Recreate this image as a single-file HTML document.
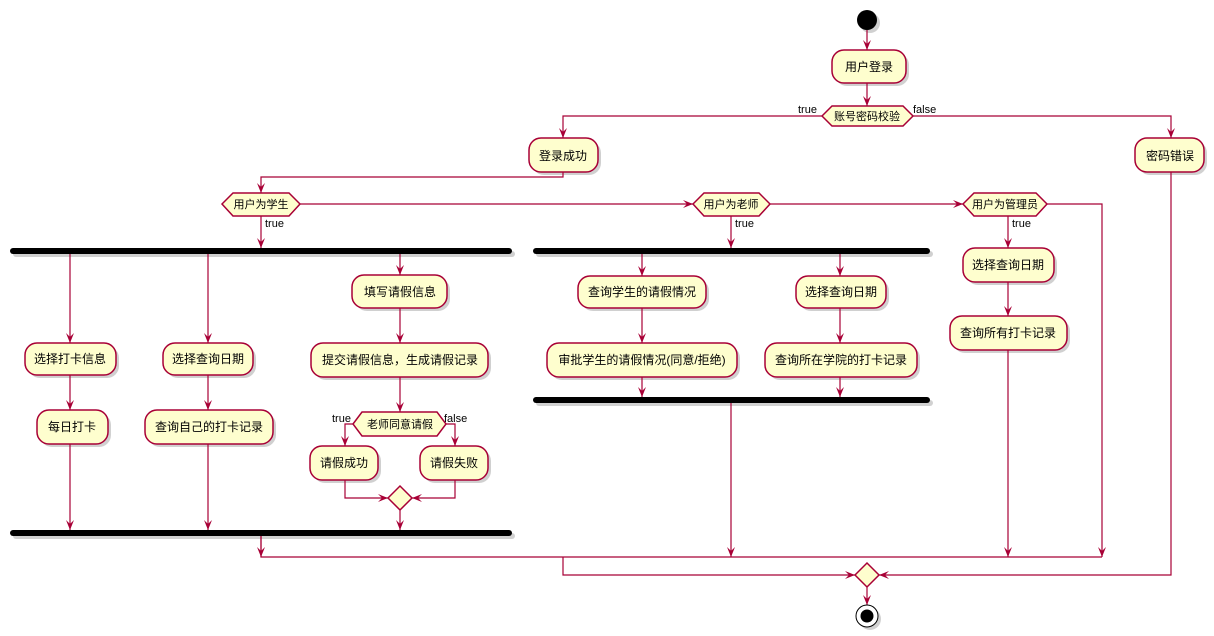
<!DOCTYPE html>
<html><head><meta charset="utf-8"><style>
html,body{margin:0;padding:0;background:#fff;}
svg{display:block;}
text{font-family:"Liberation Sans","Noto Sans CJK SC",sans-serif;font-size:12px;fill:#000;}
.b{fill:#FEFECE;stroke:#A80036;stroke-width:1.5;}
.l{fill:none;stroke:#A80036;stroke-width:1.2;}
.s{fill:#999;opacity:.45;}
.lb{font-size:11px;}
</style></head><body>
<svg width="1214" height="636" viewBox="0 0 1214 636" xmlns="http://www.w3.org/2000/svg">
<defs>
<marker id="a" viewBox="0 0 10 10" refX="10" refY="5" markerWidth="10" markerHeight="10" orient="auto" markerUnits="userSpaceOnUse">
<path d="M0,1 L10,5 L0,9 L4,5 Z" fill="#A80036"/>
</marker>
</defs>
<!-- shadows -->
<g class="s">
<circle cx="870" cy="23" r="10"/>
<rect x="835" y="53" width="74" height="33" rx="12"/>
<rect x="532" y="141" width="69" height="34" rx="12"/>
<rect x="1138" y="141" width="69" height="34" rx="12"/>
<rect x="13" y="251" width="502" height="6" rx="3"/>
<rect x="13" y="533" width="502" height="6" rx="3"/>
<rect x="536" y="251" width="397" height="6" rx="3"/>
<rect x="536" y="400" width="397" height="6" rx="3"/>
<rect x="28" y="346" width="91" height="32" rx="12"/>
<rect x="40" y="413" width="71" height="34" rx="12"/>
<rect x="166" y="346" width="90" height="32" rx="12"/>
<rect x="148" y="413" width="128" height="34" rx="12"/>
<rect x="355" y="278" width="95" height="33" rx="12"/>
<rect x="314" y="346" width="177" height="34" rx="12"/>
<rect x="313" y="449" width="68" height="34" rx="12"/>
<rect x="423" y="449" width="68" height="34" rx="12"/>
<rect x="581" y="279" width="128" height="32" rx="12"/>
<rect x="550" y="346" width="190" height="34" rx="12"/>
<rect x="799" y="279" width="90" height="32" rx="12"/>
<rect x="768" y="346" width="152" height="34" rx="12"/>
<rect x="966" y="251" width="91" height="34" rx="12"/>
<rect x="953" y="319" width="117" height="34" rx="12"/>
<circle cx="870" cy="619" r="11"/>
</g>

<!-- lines -->
<line class="l" x1="867" y1="30" x2="867" y2="50" marker-end="url(#a)"/>
<line class="l" x1="867" y1="83" x2="867" y2="106" marker-end="url(#a)"/>
<polyline class="l" points="822,116 563,116 563,138" marker-end="url(#a)"/>
<polyline class="l" points="913,116 1171,116 1171,138" marker-end="url(#a)"/>
<polyline class="l" points="563,172 563,177 261,177 261,193" marker-end="url(#a)"/>
<line class="l" x1="300" y1="204" x2="693" y2="204" marker-end="url(#a)"/>
<line class="l" x1="770" y1="204" x2="963" y2="204" marker-end="url(#a)"/>
<polyline class="l" points="1047,204 1102,204 1102,557" marker-end="url(#a)"/>
<line class="l" x1="261" y1="216" x2="261" y2="248" marker-end="url(#a)"/>
<line class="l" x1="731" y1="216" x2="731" y2="248" marker-end="url(#a)"/>
<line class="l" x1="1008" y1="216" x2="1008" y2="248" marker-end="url(#a)"/>
<!-- student -->
<line class="l" x1="70" y1="253" x2="70" y2="343" marker-end="url(#a)"/>
<line class="l" x1="70" y1="375" x2="70" y2="410" marker-end="url(#a)"/>
<line class="l" x1="70" y1="444" x2="70" y2="530" marker-end="url(#a)"/>
<line class="l" x1="208" y1="253" x2="208" y2="343" marker-end="url(#a)"/>
<line class="l" x1="208" y1="375" x2="208" y2="410" marker-end="url(#a)"/>
<line class="l" x1="208" y1="444" x2="208" y2="530" marker-end="url(#a)"/>
<line class="l" x1="400" y1="253" x2="400" y2="275" marker-end="url(#a)"/>
<line class="l" x1="400" y1="308" x2="400" y2="343" marker-end="url(#a)"/>
<line class="l" x1="400" y1="377" x2="400" y2="412" marker-end="url(#a)"/>
<polyline class="l" points="353,424 345,424 345,446" marker-end="url(#a)"/>
<polyline class="l" points="446,424 455,424 455,446" marker-end="url(#a)"/>
<polyline class="l" points="345,480 345,498 388,498" marker-end="url(#a)"/>
<polyline class="l" points="455,480 455,498 412,498" marker-end="url(#a)"/>
<line class="l" x1="400" y1="510" x2="400" y2="530" marker-end="url(#a)"/>
<polyline class="l" points="261,535 261,557 1102,557"/>
<!-- teacher -->
<line class="l" x1="642" y1="253" x2="642" y2="276" marker-end="url(#a)"/>
<line class="l" x1="642" y1="308" x2="642" y2="343" marker-end="url(#a)"/>
<line class="l" x1="642" y1="377" x2="642" y2="397" marker-end="url(#a)"/>
<line class="l" x1="840" y1="253" x2="840" y2="276" marker-end="url(#a)"/>
<line class="l" x1="840" y1="308" x2="840" y2="343" marker-end="url(#a)"/>
<line class="l" x1="840" y1="377" x2="840" y2="397" marker-end="url(#a)"/>
<line class="l" x1="731" y1="403" x2="731" y2="557" marker-end="url(#a)"/>
<!-- admin -->
<line class="l" x1="1008" y1="282" x2="1008" y2="316" marker-end="url(#a)"/>
<line class="l" x1="1008" y1="350" x2="1008" y2="557" marker-end="url(#a)"/>
<line class="l" x1="261" y1="535" x2="261" y2="557" marker-end="url(#a)"/>
<polyline class="l" points="563,557 563,575 855,575" marker-end="url(#a)"/>
<polyline class="l" points="1171,172 1171,575 879,575" marker-end="url(#a)"/>
<line class="l" x1="867" y1="587" x2="867" y2="605" marker-end="url(#a)"/>

<!-- nodes -->
<circle cx="867" cy="20" r="10" fill="#000"/>
<rect class="b" x="832" y="50" width="74" height="33" rx="12"/><text x="869" y="71" text-anchor="middle">用户登录</text>
<polygon class="b" points="822,116 832,106 903,106 913,116 903,126 832,126"/><text x="867" y="120" text-anchor="middle" class="lb">账号密码校验</text>
<text x="798" y="113" class="lb">true</text><text x="913" y="113" class="lb">false</text>
<rect class="b" x="529" y="138" width="69" height="34" rx="12"/><text x="563" y="160" text-anchor="middle">登录成功</text>
<rect class="b" x="1135" y="138" width="69" height="34" rx="12"/><text x="1170" y="160" text-anchor="middle">密码错误</text>

<polygon class="b" points="222,204 233,193 289,193 300,204 289,216 233,216"/><text x="261" y="208" text-anchor="middle" class="lb">用户为学生</text>
<text x="265" y="227" class="lb">true</text>
<polygon class="b" points="693,204 704,193 759,193 770,204 759,216 704,216"/><text x="731" y="208" text-anchor="middle" class="lb">用户为老师</text>
<text x="735" y="227" class="lb">true</text>
<polygon class="b" points="963,204 974,193 1036,193 1047,204 1036,216 974,216"/><text x="1005" y="208" text-anchor="middle" class="lb">用户为管理员</text>
<text x="1012" y="227" class="lb">true</text>

<rect x="10" y="248" width="502" height="6" rx="3" fill="#000"/>
<rect x="10" y="530" width="502" height="6" rx="3" fill="#000"/>
<rect x="533" y="248" width="397" height="6" rx="3" fill="#000"/>
<rect x="533" y="397" width="397" height="6" rx="3" fill="#000"/>

<rect class="b" x="25" y="343" width="91" height="32" rx="12"/><text x="70" y="363" text-anchor="middle">选择打卡信息</text>
<rect class="b" x="37" y="410" width="71" height="34" rx="12"/><text x="72" y="431" text-anchor="middle">每日打卡</text>
<rect class="b" x="163" y="343" width="90" height="32" rx="12"/><text x="208" y="363" text-anchor="middle">选择查询日期</text>
<rect class="b" x="145" y="410" width="128" height="34" rx="12"/><text x="209" y="431" text-anchor="middle">查询自己的打卡记录</text>
<rect class="b" x="352" y="275" width="95" height="33" rx="12"/><text x="400" y="296" text-anchor="middle">填写请假信息</text>
<rect class="b" x="311" y="343" width="177" height="34" rx="12"/><text x="400" y="364" text-anchor="middle">提交请假信息，生成请假记录</text>
<polygon class="b" points="353,424 362,412 437,412 446,424 437,436 362,436"/><text x="400" y="428" text-anchor="middle" class="lb">老师同意请假</text>
<text x="332" y="422" class="lb">true</text><text x="444" y="422" class="lb">false</text>
<rect class="b" x="310" y="446" width="68" height="34" rx="12"/><text x="344" y="467" text-anchor="middle">请假成功</text>
<rect class="b" x="420" y="446" width="68" height="34" rx="12"/><text x="454" y="467" text-anchor="middle">请假失败</text>
<polygon class="b" points="388,498 400,486 412,498 400,510"/>

<rect class="b" x="578" y="276" width="128" height="32" rx="12"/><text x="642" y="296" text-anchor="middle">查询学生的请假情况</text>
<rect class="b" x="547" y="343" width="190" height="34" rx="12"/><text x="642" y="364" text-anchor="middle">审批学生的请假情况(同意/拒绝)</text>
<rect class="b" x="796" y="276" width="90" height="32" rx="12"/><text x="841" y="296" text-anchor="middle">选择查询日期</text>
<rect class="b" x="765" y="343" width="152" height="34" rx="12"/><text x="841" y="364" text-anchor="middle">查询所在学院的打卡记录</text>

<rect class="b" x="963" y="248" width="91" height="34" rx="12"/><text x="1008" y="269" text-anchor="middle">选择查询日期</text>
<rect class="b" x="950" y="316" width="117" height="34" rx="12"/><text x="1008" y="337" text-anchor="middle">查询所有打卡记录</text>

<polygon class="b" points="855,575 867,563 879,575 867,587"/>
<circle cx="867" cy="616" r="11" fill="#fff" stroke="#000" stroke-width="1"/>
<circle cx="867" cy="616" r="6.5" fill="#000"/>
</svg>
</body></html>
